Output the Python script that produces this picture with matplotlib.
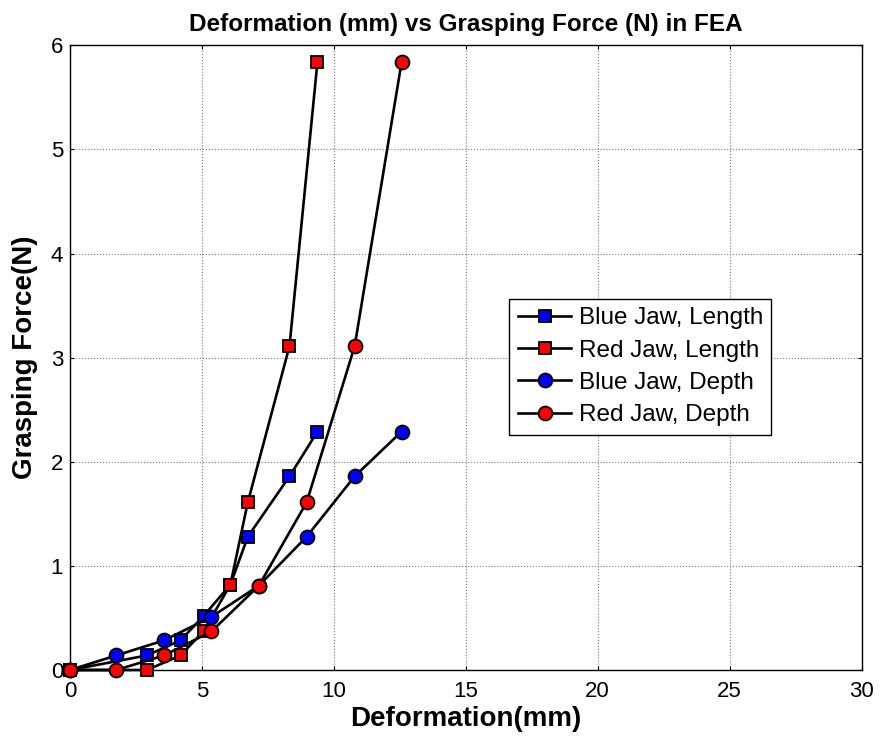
import matplotlib
matplotlib.use("Agg")
import matplotlib.pyplot as plt

plt.rcParams['font.family'] = ['Liberation Sans', 'DejaVu Sans']

len_x = [0, 2.92, 4.19, 5.07, 6.08, 6.74, 8.32, 9.38]
dep_x = [0, 1.76, 3.57, 5.36, 7.16, 8.97, 10.79, 12.57]
blue_len_y = [0, 0.14, 0.285, 0.52, 0.82, 1.28, 1.86, 2.29]
red_len_y = [0, 0, 0.14, 0.375, 0.82, 1.61, 3.11, 5.84]
blue_dep_y = [0, 0.14, 0.285, 0.51, 0.81, 1.28, 1.86, 2.29]
red_dep_y = [0, 0, 0.14, 0.37, 0.81, 1.61, 3.11, 5.84]

fig = plt.figure(figsize=(8.8, 7.4), dpi=100)
ax = fig.add_axes([0.0795, 0.0946, 0.8995, 0.8442])

kw = dict(color='black', linewidth=1.9, markeredgecolor='black', markeredgewidth=1.3, clip_on=False, zorder=3)
ax.plot(len_x, blue_len_y, marker='s', markersize=8, markerfacecolor='blue', label='Blue Jaw, Length', **kw)
ax.plot(len_x, red_len_y, marker='s', markersize=8, markerfacecolor='red', label='Red Jaw, Length', **kw)
ax.plot(dep_x, blue_dep_y, marker='o', markersize=10, markerfacecolor='blue', label='Blue Jaw, Depth', **kw)
ax.plot(dep_x, red_dep_y, marker='o', markersize=10, markerfacecolor='red', label='Red Jaw, Depth', **kw)

ax.set_xlim(0, 30)
ax.set_ylim(0, 6)
ax.set_xticks(range(0, 31, 5))
ax.set_yticks(range(0, 7))
ax.grid(True, color='#777777', linestyle=':', linewidth=0.8)
ax.set_axisbelow(True)
ax.tick_params(direction='in', top=True, right=True, labelsize=16, length=3)
ax.tick_params(axis='x', pad=8)
ax.tick_params(axis='y', pad=5)
for s in ax.spines.values():
    s.set_linewidth(1.0)

ax.set_title('Deformation (mm) vs Grasping Force (N) in FEA', fontsize=17.5, fontweight='bold', pad=10)
ax.set_xlabel('Deformation(mm)', fontsize=20, fontweight='bold', labelpad=3)
ax.set_ylabel('Grasping Force(N)', fontsize=20, fontweight='bold', labelpad=9)

leg = ax.legend(loc='upper left', bbox_to_anchor=(0.555, 0.594), fontsize=17.5, frameon=True,
                fancybox=False, edgecolor='black', framealpha=1, handlelength=2.2,
                borderpad=0.35, labelspacing=0.42, handletextpad=0.3, borderaxespad=0)
leg.get_frame().set_linewidth(1.0)

fig.savefig('out.png', dpi=100)
